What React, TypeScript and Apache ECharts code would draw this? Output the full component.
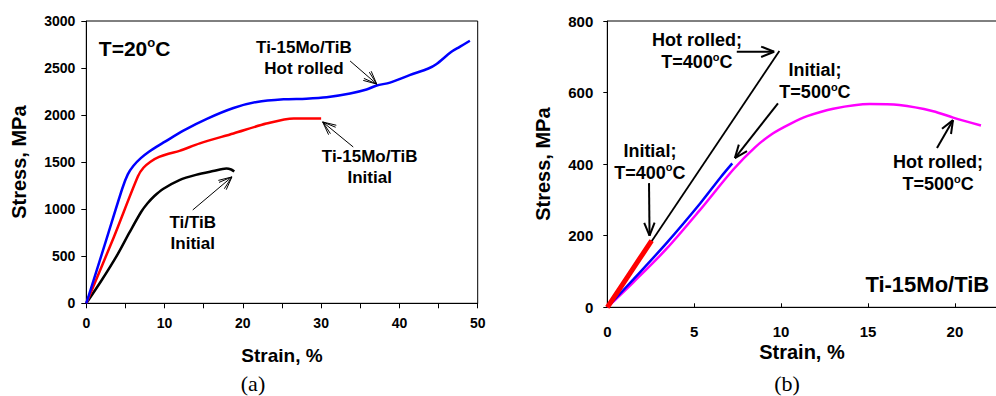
import React, { useEffect, useRef } from "react";
import * as echarts from "echarts";

// ---------- Panel (a): T = 20 °C ----------
const hotRolledA: [number, number][] = [
  [0, 0], [2.5, 660], [4.6, 1220], [5.3, 1370], [6, 1460], [7, 1545], [8, 1610], [9, 1665],
  [10, 1715], [12.4, 1835], [15.4, 1960], [18.8, 2075], [21.8, 2140], [25.2, 2168],
  [28.1, 2175], [30.7, 2190], [33.7, 2230], [35.8, 2272], [37.1, 2315], [38.8, 2345],
  [41.3, 2425], [43.7, 2495], [44.7, 2540], [46.6, 2670], [47.7, 2725], [49.0, 2790],
];
const initialA: [number, number][] = [
  [0, 0], [3.5, 700], [6.6, 1350], [7.3, 1440], [8.2, 1505], [9.3, 1555], [10.5, 1590], [11.9, 1620],
  [14.5, 1700], [18.8, 1805], [23, 1910], [26.5, 1965], [30, 1965],
];
const tiTibA: [number, number][] = [
  [0, 0], [2, 250], [4, 520], [5.5, 750], [7, 970], [7.8, 1060], [8.7, 1140],
  [9.8, 1215], [11.9, 1310], [14, 1365], [16.2, 1405], [17.9, 1432], [18.5, 1422], [18.9, 1400],
];

// ---------- Panel (b): Ti-15Mo/TiB at 400/500 °C ----------
const hotRolled400: [number, number][] = [[0, 0], [9.9, 716]];
const initial400: [number, number][] = [[0, 0], [1.3, 95], [2.55, 186]];
const initial500: [number, number][] = [
  [0, 0], [1.5, 78], [3.42, 180], [5.34, 290], [6.5, 362], [7.19, 402],
];
const hotRolled500: [number, number][] = [
  [0, 0], [1.5, 70], [3.4, 163], [5.3, 270], [7.25, 385], [8.5, 447], [9.5, 485],
  [10.5, 512], [11.5, 534], [13, 555], [15.1, 568], [16.8, 565], [18.75, 548], [19.9, 530], [21.5, 508],
];

const ticksA_x = { min: 0, max: 50, interval: 5 };
const ticksA_y = { min: 0, max: 3000, interval: 500 };
const ticksB_x = { min: 0, max: 25, interval: 5 };
const ticksB_y = { min: 0, max: 800, interval: 200 };

// annotation arrows (tail -> tip), in data coordinates
const arrowsA: [number, number][][] = [
  [[33.7, 2575], [37.1, 2330]],
  [[34.1, 1661], [30.2, 1927]],
  [[13.6, 992], [18.6, 1343]],
];
const arrowsB: [number, number][][] = [
  [[7.45, 714], [9.6, 714]],
  [[9.82, 570], [7.34, 417]],
  [[2.4, 347], [2.43, 200]],
  [[18.97, 445], [19.89, 523]],
];

const FONT = "'Liberation Sans', Arial, sans-serif";

export default function App() {
  const ref = useRef<HTMLDivElement>(null);
  useEffect(() => {
    if (!ref.current) return;
    const chart = echarts.init(ref.current, undefined, { renderer: "svg" });
    const axisLabel = (size: number, margin: number, fmt: (v: number) => string) => ({
      color: "#000",
      fontFamily: FONT,
      fontWeight: "bold" as const,
      fontSize: size,
      margin,
      formatter: fmt,
    });
    const nameStyle = { color: "#000", fontFamily: FONT, fontWeight: "bold" as const, fontSize: 20 };
    const line = (data: [number, number][], color: string, width: number, idx: number, z = 2) => ({
      type: "line" as const,
      data,
      xAxisIndex: idx,
      yAxisIndex: idx,
      showSymbol: false,
      smooth: 0.3,
      z,
      lineStyle: { color, width },
    });
    chart.setOption({
      animation: false,
      backgroundColor: "#fff",
      grid: [
        { left: 86.3, top: 21, width: 391.4, height: 282.3, show: true, borderColor: "#000", borderWidth: 1, outerBoundsMode: "none", containLabel: false },
        { left: 607.3, top: 21, width: 434.5, height: 286.3, show: true, borderColor: "#000", borderWidth: 1, outerBoundsMode: "none", containLabel: false },
      ],
      xAxis: [
        {
          type: "value", gridIndex: 0, ...ticksA_x,
          axisLine: { lineStyle: { color: "#000" } },
          axisTick: { show: true, inside: false, length: 5, lineStyle: { color: "#000" } },
          splitLine: { show: false },
          axisLabel: axisLabel(14, 13, (v: number) => (v % 10 === 0 ? String(v) : "")),
          name: "Strain, %", nameLocation: "middle", nameGap: 43, nameTextStyle: { ...nameStyle, fontSize: 19 },
        },
        {
          type: "value", gridIndex: 1, ...ticksB_x,
          axisLine: { lineStyle: { color: "#000" } },
          axisTick: { show: true, inside: true, length: 4, lineStyle: { color: "#000" } },
          splitLine: { show: false },
          axisLabel: axisLabel(15, 17, (v: number) => (v <= 20 ? String(v) : "")),
        },
      ],
      yAxis: [
        {
          type: "value", gridIndex: 0, ...ticksA_y,
          axisLine: { show: true, lineStyle: { color: "#000" } },
          axisTick: { show: true, inside: false, length: 5, lineStyle: { color: "#000" } },
          splitLine: { show: false },
          axisLabel: axisLabel(14, 11, (v: number) => String(v)),
          name: "Stress, MPa", nameLocation: "middle", nameGap: 57, nameTextStyle: nameStyle,
        },
        {
          type: "value", gridIndex: 1, ...ticksB_y,
          axisLine: { show: true, lineStyle: { color: "#000" } },
          axisTick: { show: true, inside: false, length: 4, lineStyle: { color: "#000" } },
          splitLine: { show: false },
          axisLabel: axisLabel(15, 14, (v: number) => String(v)),
          name: "Stress, MPa", nameLocation: "middle", nameGap: 54, nameTextStyle: nameStyle,
        },
      ],
      series: [
        line(tiTibA, "#000000", 2.5, 0),
        line(initialA, "#ff0000", 2.5, 0),
        line(hotRolledA, "#0000ff", 2.5, 0),
        line(hotRolled500, "#ff00ff", 2.5, 1),
        line(initial500, "#0000ff", 2.5, 1, 3),
        line(hotRolled400, "#000000", 1.8, 1, 3),
        line(initial400, "#ff0000", 5, 1, 4),
      ],
    });

    const px = (idx: number, p: [number, number]) =>
      chart.convertToPixel({ xAxisIndex: idx, yAxisIndex: idx }, p) as number[];

    // right x-axis title: centred under the visible part of the axis
    const xb = px(1, [11.2, 0]);

    const arrow = (idx: number, a: [number, number][], len: number, double: boolean) => {
      const t = px(idx, a[0]);
      const h = px(idx, a[1]);
      const ang = Math.atan2(h[1] - t[1], h[0] - t[0]);
      const w = idx === 0 ? 1 : 2;
      const els: any[] = [
        { type: "line", shape: { x1: t[0], y1: t[1], x2: h[0], y2: h[1] }, style: { stroke: "#000", lineWidth: w }, z: 10 },
      ];
      const spreads = double ? [0.3, 0.45] : [0.38];
      for (const s of spreads) {
        for (const sign of [1, -1]) {
          const b = ang + Math.PI + sign * s;
          els.push({
            type: "line",
            shape: { x1: h[0], y1: h[1], x2: h[0] + len * Math.cos(b), y2: h[1] + len * Math.sin(b) },
            style: { stroke: "#000", lineWidth: w },
            z: 10,
          });
        }
      }
      return els;
    };

    const rich = (size: number) => ({
      a: { fontFamily: FONT, fontWeight: "bold", fontSize: size, fill: "#000", lineHeight: size + 4 },
      s: { fontFamily: FONT, fontWeight: "bold", fontSize: Math.round(size * 0.6), fill: "#000", verticalAlign: "top", lineHeight: size + 4 },
    });
    const label = (idx: number, p: [number, number], text: string, size: number, align = "center") => {
      const q = px(idx, p);
      return {
        type: "text",
        x: q[0],
        y: q[1],
        z: 10,
        style: { text, rich: rich(size), align, verticalAlign: "middle", fill: "#000", font: `bold ${size}px ${FONT}` },
      };
    };

    const graphics: any[] = [];
    arrowsA.forEach((a) => graphics.push(...arrow(0, a, 14, true)));
    arrowsB.forEach((a) => graphics.push(...arrow(1, a, 14, false)));
    graphics.push(
      label(0, [1.6, 2713], "{a|T=20}{s|o}{a|C}", 21, "left"),
      label(0, [27.8, 2609], "{a|Ti-15Mo/TiB}\n{a|Hot rolled}", 17),
      label(0, [36.2, 1448], "{a|Ti-15Mo/TiB}\n{a|Initial}", 17),
      label(0, [13.6, 747], "{a|Ti/TiB}\n{a|Initial}", 17),
      label(1, [5.16, 716], "{a|Hot rolled;}\n{a|T=400}{s|o}{a|C}", 18),
      label(1, [11.95, 632], "{a|Initial;}\n{a|T=500}{s|o}{a|C}", 18),
      label(1, [2.45, 407], "{a|Initial;}\n{a|T=400}{s|o}{a|C}", 18),
      label(1, [19.03, 374], "{a|Hot rolled;}\n{a|T=500}{s|o}{a|C}", 18),
      label(1, [14.85, 65], "{a|Ti-15Mo/TiB}", 22, "left"),
      {
        type: "text", x: xb[0], y: xb[1] + 45, z: 10,
        style: { text: "Strain, %", align: "center", verticalAlign: "middle", fill: "#000", font: `bold 20px ${FONT}` },
      },
      {
        type: "text", x: 253, y: 383, z: 10,
        style: { text: "(a)", align: "center", verticalAlign: "middle", fill: "#000", font: "22px 'Liberation Serif', serif" },
      },
      {
        type: "text", x: 787, y: 383, z: 10,
        style: { text: "(b)", align: "center", verticalAlign: "middle", fill: "#000", font: "22px 'Liberation Serif', serif" },
      }
    );
    chart.setOption({ graphic: graphics });
    return () => chart.dispose();
  }, []);
  return (
    <div
      ref={ref}
      style={{ position: "absolute", left: 0, top: 0, width: 996, height: 396, background: "#fff", overflow: "hidden" }}
    />
  );
}
